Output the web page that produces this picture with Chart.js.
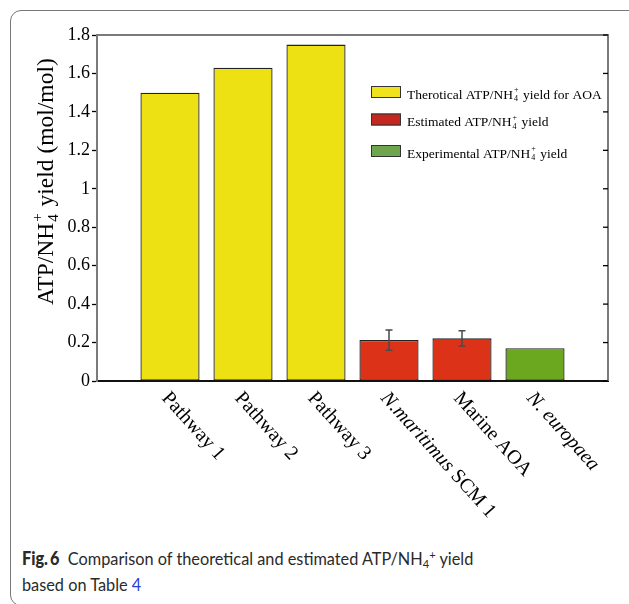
<!DOCTYPE html>
<html><head><meta charset="utf-8">
<script src="https://cdn.jsdelivr.net/npm/chart.js@4.4.0/dist/chart.umd.min.js"></script>
<style>
html,body{margin:0;padding:0;background:#fff;width:629px;height:604px;overflow:hidden;position:relative;}
#frame{position:absolute;left:10px;top:10px;width:640px;height:596px;border:1px solid #777;border-radius:11px;box-sizing:border-box;}
#wrap{position:absolute;left:0;top:0;width:629px;height:520px;}
#cap{position:absolute;left:22px;top:545px;font-family:Lato,'Open Sans',sans-serif;font-size:18px;line-height:26px;color:#2a2a2a;white-space:nowrap;transform:scaleX(0.905);transform-origin:0 0;}
#cap b{font-weight:900;}
#cap .sb{font-size:0.68em;position:relative;top:0.25em;line-height:0;}
#cap .sp{font-size:0.68em;position:relative;top:-0.5em;line-height:0;}
</style></head><body>
<div id="frame"></div>
<div id="wrap"><canvas id="c" width="629" height="520"></canvas></div>
<div id="cap"><b>Fig.&#8201;6</b>&nbsp; Comparison of theoretical and estimated ATP/NH<span class="sb">4</span><span class="sp">+</span> yield<br>based on Table <span style="color:#2b3fd6">4</span></div>
<script>
// ---- data ----
const categories = ['Pathway 1', 'Pathway 2', 'Pathway 3', '*N.maritimus* SCM 1', 'Marine AOA', '*N. europaea*'];
const yieldValues = [1.50, 1.63, 1.75, 0.213, 0.222, 0.170];
const errLow  = [null, null, null, 0.160, 0.182, null];
const errHigh = [null, null, null, 0.265, 0.262, null];
const seriesOfBar = [0, 0, 0, 1, 1, 2];
const seriesNames = ['Therotical ATP/NH_4^+ yield for AOA', 'Estimated ATP/NH_4^+ yield', 'Experimental ATP/NH_4^+ yield'];
const yTitle = 'ATP/NH_4^+ yield (mol/mol)';
const yMin = 0, yMax = 1.8, yStep = 0.2;

// ---- styles ----
const barColors = ['#EDE013', '#DC3217', '#6BA820'];
const legendColors = ['#F0E31E', '#C3271F', '#6FA64D'];
const SERIF = '"Liberation Serif", "Times New Roman", serif';

function parseRich(s) {
  const parts = []; let italic = false; let buf = '';
  for (let i = 0; i < s.length; i++) {
    const c = s[i];
    if (c === '*') { if (buf) { parts.push({t: buf, italic}); buf = ''; } italic = !italic; }
    else if (c === '_' || c === '^') { if (buf) { parts.push({t: buf, italic}); buf = ''; } parts.push({t: s[i + 1], italic, kind: c === '_' ? 'sub' : 'sup'}); i++; }
    else buf += c;
  }
  if (buf) parts.push({t: buf, italic});
  return parts;
}
function drawRich(ctx, s, x, y, size) {
  const parts = parseRich(s); let cx = x; let i = 0;
  ctx.textAlign = 'left';
  while (i < parts.length) {
    const p = parts[i];
    if (p.kind) {
      let w = 0;
      while (i < parts.length && parts[i].kind) {
        const q = parts[i];
        ctx.font = (q.italic ? 'italic ' : '') + Math.round(size * 0.62) + 'px ' + SERIF;
        const dy = q.kind === 'sub' ? size * 0.22 : -size * 0.45;
        ctx.fillText(q.t, cx + 1, y + dy);
        w = Math.max(w, ctx.measureText(q.t).width);
        i++;
      }
      cx += w + 2;
    } else {
      ctx.font = (p.italic ? 'italic ' : '') + size + 'px ' + SERIF;
      ctx.fillText(p.t, cx, y);
      cx += ctx.measureText(p.t).width;
      i++;
    }
  }
  return cx - x;
}

const labels = ['', ...categories, ''];
const values = [null, ...yieldValues, null];
const colors = [null, ...seriesOfBar.map(s => barColors[s]), null];

const decorPlugin = {
  id: 'decor',
  afterDatasetsDraw(chart) {
    const ctx = chart.ctx, y = chart.scales.y;
    const meta = chart.getDatasetMeta(0);
    ctx.save();
    ctx.strokeStyle = '#4a4a4a'; ctx.lineWidth = 1.5;
    for (let i = 0; i < categories.length; i++) {
      if (errLow[i] == null) continue;
      const bx = meta.data[i + 1].x;
      const y1 = y.getPixelForValue(errLow[i]), y2 = y.getPixelForValue(errHigh[i]);
      ctx.beginPath();
      ctx.moveTo(bx, y1); ctx.lineTo(bx, y2);
      ctx.moveTo(bx - 3.5, y1); ctx.lineTo(bx + 3.5, y1);
      ctx.moveTo(bx - 3.5, y2); ctx.lineTo(bx + 3.5, y2);
      ctx.stroke();
    }
    ctx.restore();
  },
  afterDraw(chart) {
    const ctx = chart.ctx, y = chart.scales.y, x = chart.scales.x, a = chart.chartArea;
    ctx.save();
    ctx.strokeStyle = '#7a7a7a'; ctx.lineWidth = 2;
    ctx.beginPath();
    ctx.moveTo(a.left, a.top); ctx.lineTo(a.right, a.top); ctx.lineTo(a.right, a.bottom);
    ctx.stroke();
    ctx.strokeStyle = '#000'; ctx.lineWidth = 1.3;
    y.ticks.forEach(t => {
      const py = y.getPixelForValue(t.value);
      ctx.beginPath(); ctx.moveTo(a.right - 5, py); ctx.lineTo(a.right, py); ctx.stroke();
    });
    // y title
    ctx.fillStyle = '#000'; ctx.textBaseline = 'alphabetic';
    ctx.save();
    ctx.translate(53, 305); ctx.rotate(-Math.PI / 2);
    drawRich(ctx, yTitle, 0, 0, 23.5);
    ctx.restore();
    // x labels rotated
    const ang = 48 * Math.PI / 180;
    categories.forEach((c, i) => {
      const px = x.getPixelForValue(i + 1);
      ctx.save();
      ctx.translate(px - 5, a.bottom + 14);
      ctx.rotate(ang);
      ctx.textBaseline = 'middle';
      drawRich(ctx, c, 0, 0, 20);
      ctx.restore();
    });
    // legend
    const tops = [86, 113.5, 145];
    ctx.textBaseline = 'alphabetic';
    seriesNames.forEach((n, i) => {
      ctx.fillStyle = legendColors[i];
      ctx.fillRect(371, tops[i], 30, 12);
      ctx.strokeStyle = '#333'; ctx.lineWidth = 1;
      ctx.strokeRect(371.5, tops[i] + 0.5, 29, 11);
      ctx.fillStyle = '#000';
      drawRich(ctx, n, 407, tops[i] + 12.5, 13.5);
    });
    ctx.restore();
  }
};

new Chart(document.getElementById('c'), {
  type: 'bar',
  data: {
    labels: labels,
    datasets: [{
      data: values,
      backgroundColor: colors,
      borderColor: '#222',
      borderWidth: 1.3,
      borderSkipped: false,
      categoryPercentage: 1,
      barPercentage: 0.81
    }]
  },
  options: {
    responsive: false,
    animation: false,
    events: [],
    layout: {padding: {top: 35, right: 21, left: 0, bottom: 0}},
    plugins: {legend: {display: false}, tooltip: {enabled: false}, title: {display: false}},
    scales: {
      x: {
        offset: false,
        grid: {display: false},
        border: {display: true, color: '#111', width: 2},
        ticks: {display: false},
        afterFit(s) { s.height = 139; }
      },
      y: {
        min: yMin, max: yMax,
        ticks: {stepSize: yStep, padding: 2, color: '#000', font: {family: SERIF, size: 18},
          callback: v => String(+(+v).toFixed(1))},
        grid: {drawOnChartArea: false, tickLength: 5, color: '#000', tickWidth: 1.3},
        border: {color: '#7a7a7a', width: 2},
        afterFit(s) { s.width = 97; }
      }
    }
  },
  plugins: [decorPlugin]
});
</script>
</body></html>
